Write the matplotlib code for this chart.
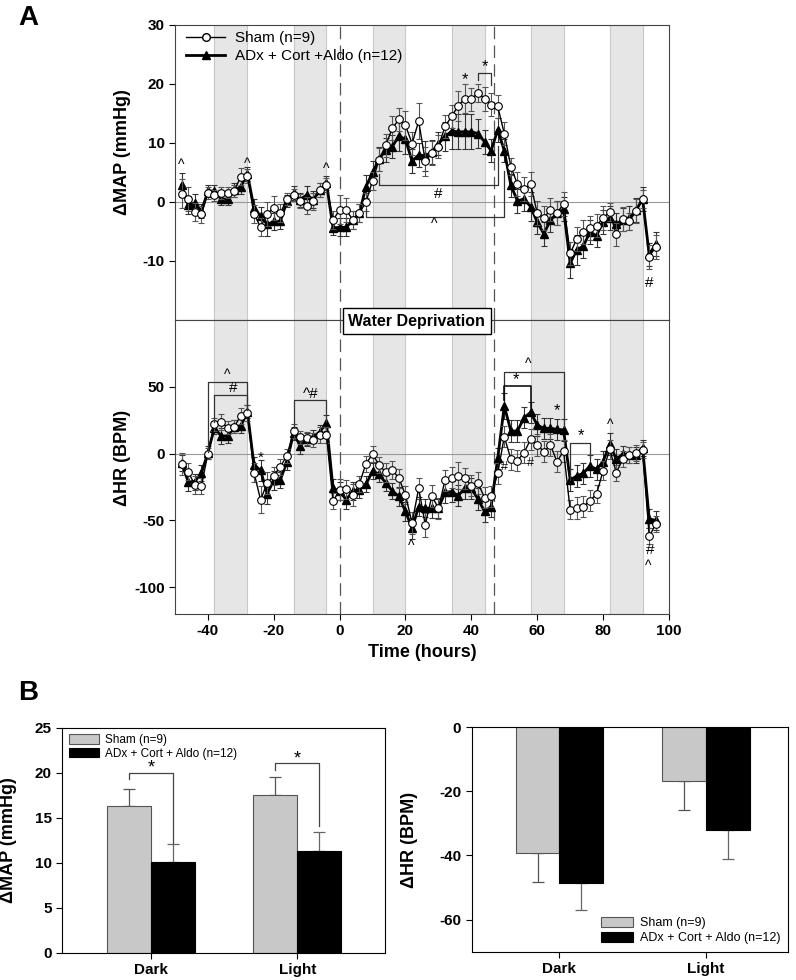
import matplotlib
matplotlib.use('Agg')
import matplotlib.pyplot as plt
from matplotlib.lines import Line2D

plt.rcParams['font.family'] = ['Liberation Sans', 'DejaVu Sans']
plt.rcParams['axes.unicode_minus'] = False

# ---- panel A data (every 2 h, -48 .. 96) ----
hours = list(range(-48, 97, 2))
dark_periods = [(-38, -28), (-14, -4), (10, 20), (34, 44), (58, 68), (82, 92)]
wd_marks = [0, 47]

map_sham = [1.4, 0.5, -1.7, -2.1, 1.5, 1.1, 1.5, 1.6, 1.9, 4.3, 4.4, -2.0,
            -4.3, -2.0, -1.0, -1.9, 0.5, 1.2, 0.1, -0.6, 0.1, 2.1, 2.9, -3.1,
            -1.3, -1.4, -3.0, -1.9, 0.0, 3.6, 7.2, 9.6, 12.5, 14.0, 13.0, 9.9,
            13.7, 6.9, 8.3, 9.4, 12.8, 14.5, 16.3, 17.5, 17.4, 18.5, 17.5, 16.5,
            16.2, 11.6, 6.0, 3.0, 2.2, 3.0, -1.9, -2.7, -1.3, -1.9, -0.3, -8.7,
            -6.3, -5.1, -4.4, -4.0, -2.7, -1.7, -5.5, -2.9, -3.3, -1.5, 0.5, -9.3,
            -7.6]
map_sham_err = [2.5, 2.0, 1.5, 1.5, 1.0, 1.0, 1.0, 1.0, 1.0, 1.5, 1.2, 1.5,
                1.5, 2.0, 2.0, 1.5, 1.0, 1.0, 1.2, 1.5, 1.5, 1.2, 1.2, 1.5,
                2.5, 2.0, 1.5, 1.5, 1.5, 1.5, 2.0, 2.0, 2.0, 2.0, 2.5, 2.0,
                3.0, 2.5, 2.0, 2.0, 2.0, 2.0, 2.5, 2.5, 2.0, 1.5, 2.0, 2.0,
                2.0, 2.0, 1.5, 2.0, 2.0, 2.0, 2.0, 2.0, 2.0, 2.0, 2.0, 2.0,
                2.0, 2.0, 2.0, 2.0, 2.0, 1.5, 2.0, 2.0, 1.5, 2.0, 1.5, 2.0,
                2.0]
map_adx = [2.9, -0.5, -0.2, -1.6, 1.8, 1.9, 0.5, 0.5, 2.0, 2.6, 4.8, -1.0,
           -2.4, -3.8, -3.3, -3.3, 0.1, 1.5, 0.4, 1.2, 0.4, 2.0, 3.2, -4.4,
           -4.3, -4.3, -3.1, -1.9, 2.6, 5.0, 7.3, 8.8, 9.4, 11.2, 10.6, 6.9,
           8.0, 7.8, 8.5, 9.9, 11.1, 12.0, 11.9, 11.9, 11.9, 11.6, 10.2, 8.7,
           12.2, 8.7, 2.8, 0.2, 0.5, -0.8, -3.4, -5.4, -3.1, -1.9, -1.2, -10.4,
           -8.1, -7.5, -5.1, -5.7, -3.4, -2.7, -3.8, -3.0, -2.7, -1.4, 0.5, -8.9,
           -7.1]
map_adx_err = [2.0, 1.5, 1.5, 1.2, 1.0, 1.0, 1.0, 1.0, 1.2, 1.2, 1.2, 1.5,
               1.5, 2.0, 1.5, 1.2, 1.0, 1.2, 1.2, 1.5, 1.5, 1.2, 1.2, 1.2,
               1.5, 1.5, 1.5, 1.5, 2.0, 2.0, 2.0, 2.0, 2.0, 2.5, 2.5, 2.0,
               2.0, 2.5, 2.0, 2.0, 2.5, 3.0, 3.0, 3.0, 3.0, 2.5, 2.0, 2.0,
               2.0, 2.0, 2.0, 2.0, 2.0, 2.5, 2.0, 2.0, 2.0, 2.0, 2.0, 2.5,
               2.5, 2.0, 2.0, 2.0, 2.0, 2.0, 2.0, 2.0, 2.0, 2.0, 2.0, 2.0,
               2.0]

hr_sham = [-7.7, -13.4, -23.4, -24.6, 0.0, 22.0, 23.9, 19.4, 20.1, 28.4, 30.1, -14.2,
           -34.6, -22.0, -16.7, -9.7, -1.7, 16.9, 12.2, 11.4, 10.2, 13.9, 14.0, -35.8,
           -27.0, -26.6, -31.0, -22.6, -7.5, -0.5, -8.5, -14.0, -12.2, -18.4, -31.0, -52.0,
           -25.9, -53.2, -31.6, -41.0, -20.0, -18.0, -16.5, -18.4, -24.0, -22.0, -33.0, -32.0,
           -14.7, 12.7, -4.2, -5.2, 0.7, 10.7, 6.5, 1.5, 6.5, -6.0, 2.0, -42.0,
           -40.8, -39.6, -35.3, -30.3, -12.9, 3.2, -14.2, -4.2, -1.0, 0.2, 2.7, -62.0,
           -52.7]
hr_sham_err = [8, 6, 7, 6, 4, 5, 6, 5, 5, 6, 6, 7,
               10, 8, 7, 6, 5, 5, 5, 5, 5, 6, 6, 6,
               8, 7, 8, 6, 6, 6, 6, 7, 7, 7, 7, 8,
               8, 9, 8, 8, 8, 8, 10, 8, 8, 8, 8, 8,
               8, 8, 8, 8, 8, 8, 8, 8, 8, 8, 8, 7,
               8, 8, 8, 7, 7, 7, 6, 6, 6, 6, 6, 6,
               6]
hr_adx = [-7.2, -20.9, -20.9, -14.7, 0.7, 19.4, 13.2, 13.2, 20.1, 20.6, 31.3, -8.5,
          -12.5, -30.0, -20.0, -19.7, -6.0, 15.2, 6.0, 10.7, 12.7, 16.4, 22.8, -26.0,
          -28.0, -34.6, -28.0, -27.0, -23.0, -13.0, -15.5, -22.0, -28.0, -32.0, -43.3, -56.0,
          -39.6, -40.8, -41.0, -41.0, -29.0, -28.4, -31.5, -26.0, -26.0, -34.0, -43.3, -39.6,
          -3.5, 35.6, 16.9, 16.9, 26.9, 30.8, 21.4, 18.9, 18.9, 18.2, 17.7, -19.7,
          -16.7, -14.7, -9.2, -11.7, -6.0, 7.2, -4.2, -0.2, -1.0, -1.0, 4.5, -48.8,
          -50.0]
hr_adx_err = [6, 7, 6, 6, 5, 5, 6, 5, 5, 5, 5, 6,
              8, 8, 7, 6, 6, 5, 6, 5, 5, 5, 6, 7,
              7, 7, 7, 6, 6, 6, 6, 6, 6, 7, 7, 8,
              7, 7, 7, 7, 8, 8, 8, 8, 8, 8, 8, 8,
              8, 10, 8, 8, 8, 8, 8, 8, 8, 8, 8, 8,
              8, 8, 8, 8, 8, 8, 8, 6, 6, 6, 6, 7,
              7]

# ---- panel B data ----
periods = ['Dark', 'Light']
bar_map_sham = [16.3, 17.6]
bar_map_sham_err = [1.9, 2.0]
bar_map_adx = [10.1, 11.3]
bar_map_adx_err = [2.0, 2.1]
bar_hr_sham = [-39.2, -16.7]
bar_hr_sham_err = [9.0, 9.0]
bar_hr_adx = [-48.7, -32.1]
bar_hr_adx_err = [8.4, 8.9]

sham_label = 'Sham (n=9)'
adx_label_a = 'ADx + Cort +Aldo (n=12)'
adx_label_b = 'ADx + Cort + Aldo (n=12)'

SHADE = '#e6e6e6'
SPINE = '#444444'


def bracket(ax, x1, x2, ytop, yleft, yright, color='#333333', lw=0.9):
    ax.plot([x1, x1, x2, x2], [yleft, ytop, ytop, yright], color=color, lw=lw, zorder=5)


def note(ax, x, y, s, size=10):
    ax.text(x, y, s, ha='center', va='center', fontsize=size, zorder=6)


def timecourse(ax, y_sham, e_sham, y_adx, e_adx):
    for a, b in dark_periods:
        ax.axvspan(a, b, facecolor=SHADE, edgecolor='#c8c8c8', lw=0.8, zorder=0)
    ax.axhline(0, color='#9a9a9a', lw=0.8, zorder=1)
    for x in wd_marks:
        ax.axvline(x, color='#555555', lw=0.9, ls=(0, (10, 5)), zorder=1)
    ax.errorbar(hours, y_adx, yerr=e_adx, color='black', lw=2.0, marker='^', ms=6,
                mfc='black', mec='black', ecolor='#333333', elinewidth=0.8,
                capsize=2.5, capthick=0.8, zorder=3)
    ax.errorbar(hours, y_sham, yerr=e_sham, color='black', lw=1.0, marker='o', ms=5.5,
                mfc='white', mec='black', mew=0.8, ecolor='#555555', elinewidth=0.8,
                capsize=2.5, capthick=0.8, zorder=4)
    for s in ax.spines.values():
        s.set_color(SPINE)
    ax.tick_params(direction='out', length=4, width=0.8, labelsize=11)
    for lab in ax.get_yticklabels() + ax.get_xticklabels():
        lab.set_fontweight('bold')


fig = plt.figure(figsize=(7.96, 9.8), dpi=100)

ax_map = fig.add_axes([0.2198, 0.6735, 0.6206, 0.301])
ax_hr = fig.add_axes([0.2198, 0.3735, 0.6206, 0.300], sharex=ax_map)

ax_map.set_xlim(-50, 100)
ax_map.set_ylim(-20, 30)
ax_map.set_yticks([-10, 0, 10, 20, 30])
ax_hr.set_ylim(-120, 100)
ax_hr.set_yticks([-100, -50, 0, 50])
ax_hr.set_xticks([-40, -20, 0, 20, 40, 60, 80, 100])

timecourse(ax_map, map_sham, map_sham_err, map_adx, map_adx_err)
timecourse(ax_hr, hr_sham, hr_sham_err, hr_adx, hr_adx_err)
ax_map.tick_params(axis='x', bottom=False, labelbottom=False)

ax_map.set_ylabel('ΔMAP (mmHg)', fontsize=13, fontweight='bold')
ax_map.yaxis.set_label_coords(-0.09, 0.57)
ax_hr.set_ylabel('ΔHR (BPM)', fontsize=13, fontweight='bold')
ax_hr.yaxis.set_label_coords(-0.09, 0.53)
ax_hr.set_xlabel('Time (hours)', fontsize=13, fontweight='bold', labelpad=4)

handles = [Line2D([], [], color='black', lw=1.0, marker='o', ms=5.5, mfc='white', mec='black'),
           Line2D([], [], color='black', lw=2.0, marker='^', ms=6, mfc='black')]
ax_map.legend(handles, [sham_label, adx_label_a], loc='upper left', frameon=False,
              fontsize=11, handlelength=2.6, handletextpad=0.6, borderaxespad=0.3,
              labelspacing=0.25, bbox_to_anchor=(0.0, 1.015))

# MAP significance marks
for x, y in [(-48, 6.2), (-28, 6.4), (-4, 5.6)]:
    note(ax_map, x, y, '^')
note(ax_map, 38, 20.8, '*', 12)
bracket(ax_map, 42, 46, 21.9, 20.6, 19.8)
note(ax_map, 44, 22.9, '*', 12)
bracket(ax_map, 12, 48, 2.8, 4.8, 9.5)
note(ax_map, 30, 1.4, '#', 11)
bracket(ax_map, 8, 50, -2.5, -1.2, 5.2)
note(ax_map, 28.6, -3.8, '^')
note(ax_map, 94, -13.7, '#', 11)

# HR significance marks
bracket(ax_hr, -40, -28, 53.7, 1.5, 32.6)
note(ax_hr, -34, 58.7, '^')
bracket(ax_hr, -38, -28, 43.8, 23.9, 35.0)
note(ax_hr, -32.2, 48.8, '#', 11)
note(ax_hr, -24, -3.0, '*', 11)
bracket(ax_hr, -14, -4, 40.0, 18.9, 23.9)
note(ax_hr, -8.7, 44.8, '^#', 11)
note(ax_hr, 21.7, -69, '^')
bracket(ax_hr, 50, 68, 61.2, 40.0, 20.0)
note(ax_hr, 57.2, 67.0, '^')
bracket(ax_hr, 50, 58, 50.7, 40.0, 33.8, color='black', lw=1.1)
note(ax_hr, 53.6, 55.0, '*', 12)
note(ax_hr, 66.1, 32.0, '*', 12)
bracket(ax_hr, 70, 76, 8.2, -19.7, -3.5)
note(ax_hr, 73.2, 13.5, '*', 12)
note(ax_hr, 82.1, 21.4, '^')
note(ax_hr, 50, -9.7, '#', 9)
note(ax_hr, 58, -7.2, '#', 9)
note(ax_hr, 94.2, -72, '#', 11)
note(ax_hr, 93.7, -84, '^')

fig.text(0.5233, 0.6724, 'Water Deprivation', ha='center', va='center', fontsize=11.5,
         fontweight='bold', zorder=10,
         bbox=dict(boxstyle='square,pad=0.35', facecolor='white', edgecolor='black', lw=1.0))

fig.text(0.023, 0.982, 'A', fontsize=20, fontweight='bold', va='center')
fig.text(0.023, 0.293, 'B', fontsize=20, fontweight='bold', va='center')


# ---- panel B ----
def bar_panel(ax, sham, sham_err, adx, adx_err, sign):
    xs = list(range(len(periods)))
    w = 0.30
    xl = [x - w / 2 for x in xs]
    xr = [x + w / 2 for x in xs]
    ax.bar(xl, sham, w, color='#c8c8c8', edgecolor='#555555', lw=0.8, label=sham_label, zorder=2)
    ax.bar(xr, adx, w, color='black', edgecolor='black', lw=0.8, label=adx_label_b, zorder=2)
    if sign > 0:
        es, ea = [[0] * len(xs), sham_err], [[0] * len(xs), adx_err]
    else:
        es, ea = [sham_err, [0] * len(xs)], [adx_err, [0] * len(xs)]
    ax.errorbar(xl, sham, yerr=es, fmt='none', ecolor='#555555', elinewidth=0.9,
                capsize=4, capthick=0.9, zorder=1)
    ax.errorbar(xr, adx, yerr=ea, fmt='none', ecolor='#666666', elinewidth=0.9,
                capsize=4, capthick=0.9, zorder=1)
    ax.set_xticks(xs)
    ax.set_xticklabels(periods)
    ax.tick_params(direction='out', length=4, width=0.8, labelsize=11)
    for lab in ax.get_yticklabels() + ax.get_xticklabels():
        lab.set_fontweight('bold')
    for s in ax.spines.values():
        s.set_color('black')


ax_b1 = fig.add_axes([0.0779, 0.0276, 0.4058, 0.2296])
bar_panel(ax_b1, bar_map_sham, bar_map_sham_err, bar_map_adx, bar_map_adx_err, 1)
ax_b1.set_xlim(-0.61, 1.6)
ax_b1.set_ylim(0, 25)
ax_b1.set_yticks([0, 5, 10, 15, 20, 25])
ax_b1.set_ylabel('ΔMAP (mmHg)', fontsize=13, fontweight='bold')
ax_b1.yaxis.set_label_coords(-0.14, 0.5)
ax_b1.legend(loc='upper left', frameon=False, fontsize=8.5, handlelength=2.6,
             handleheight=0.9, labelspacing=0.1, borderaxespad=0.15, handletextpad=0.5)
bracket(ax_b1, -0.15, 0.15, 20.0, 19.3, 12.2, color='#444444', lw=0.9)
note(ax_b1, 0, 20.5, '*', 13)
bracket(ax_b1, 0.85, 1.15, 21.1, 20.3, 14.1, color='#444444', lw=0.9)
note(ax_b1, 1, 21.6, '*', 13)

ax_b2 = fig.add_axes([0.5926, 0.0289, 0.397, 0.229])
bar_panel(ax_b2, bar_hr_sham, bar_hr_sham_err, bar_hr_adx, bar_hr_adx_err, -1)
ax_b2.set_xlim(-0.6, 1.56)
ax_b2.set_ylim(-70, 0)
ax_b2.set_yticks([-60, -40, -20, 0])
ax_b2.set_ylabel('ΔHR (BPM)', fontsize=13, fontweight='bold')
ax_b2.yaxis.set_label_coords(-0.17, 0.5)
ax_b2.legend(loc='lower right', frameon=False, fontsize=9, handlelength=2.6,
             handleheight=0.9, labelspacing=0.2, borderaxespad=0.2, handletextpad=0.5)

fig.savefig('out.png', dpi=100)
